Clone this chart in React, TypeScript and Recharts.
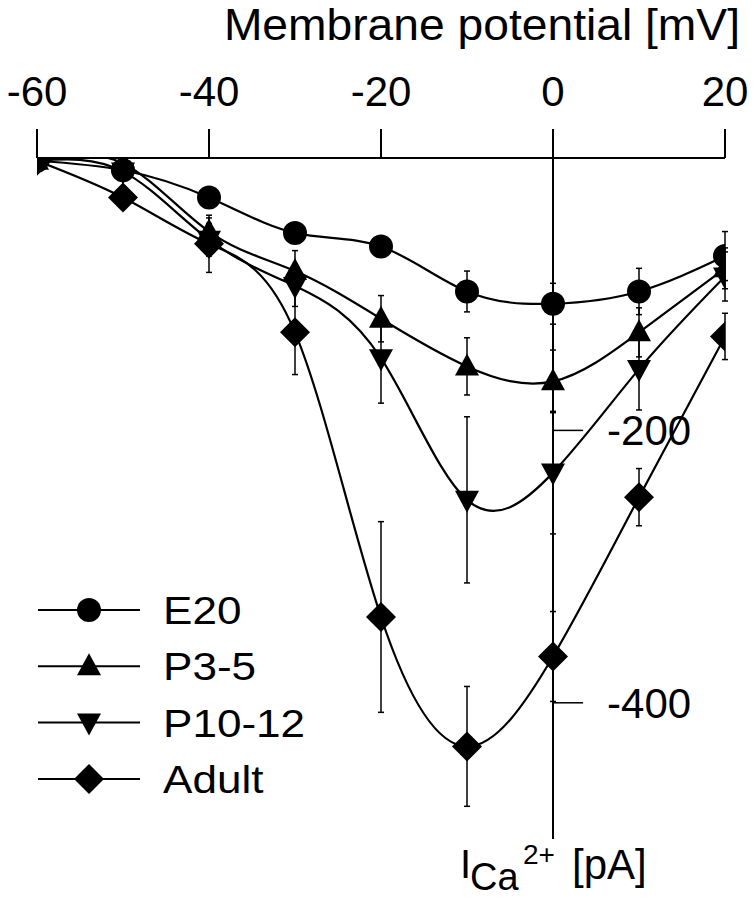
import React from 'react';
import { LineChart, Line, XAxis, YAxis, ErrorBar, ReferenceLine, Legend } from 'recharts';

const FONT = '"Liberation Sans", Arial, Helvetica, sans-serif';

// membrane potential steps (mV)
const voltages = [-60, -50, -40, -30, -20, -10, 0, 10, 20];

// peak Ca2+ current (pA) and error bars
const e20 = [-2, -9, -29, -55, -65, -98, -107, -98, -72];
const e20Err = [0, 0, 0, 0, 0, 15, 15, 17, 18];
const p35 = [-2, -4, -54, -83, -118, -153, -164, -128, -81];
const p35Err = [0, 0, 10, 15, 17, 21, 23, 18, 15];
const p1012 = [-2, -10, -60, -94, -147, -251, -231, -155, -87];
const p1012Err = [0, 0, 12, 15, 33, 61, 45, 30, 18];
const adult = [-2, -29, -63, -128, -337, -432, -366, -249, -131];
const adultErr = [0, 0, 21, 31, 70, 44, 33, 21, 17];

const xTicks = [-60, -40, -20, 0, 20];
const yTicks = [-200, -400];

const series = [
  { key: 'e20', name: 'E20', shape: 'circle' },
  { key: 'p35', name: 'P3-5', shape: 'up' },
  { key: 'p1012', name: 'P10-12', shape: 'down' },
  { key: 'adult', name: 'Adult', shape: 'diamond' },
];

const data = voltages.map((v, i) => ({
  v,
  e20: e20[i],
  e20Err: e20Err[i],
  p35: p35[i],
  p35Err: p35Err[i],
  p1012: p1012[i],
  p1012Err: p1012Err[i],
  adult: adult[i],
  adultErr: adultErr[i],
}));

function Marker({ cx, cy, shape }: { cx: number; cy: number; shape: string }) {
  if (cx == null || cy == null) return null;
  if (shape === 'circle') return <circle cx={cx} cy={cy} r={12} fill="#000" />;
  if (shape === 'up')
    return <polygon points={`${cx},${cy - 13} ${cx - 12},${cy + 9} ${cx + 12},${cy + 9}`} fill="#000" />;
  if (shape === 'down')
    return <polygon points={`${cx},${cy + 13} ${cx - 12},${cy - 9} ${cx + 12},${cy - 9}`} fill="#000" />;
  return <polygon points={`${cx},${cy - 15} ${cx + 15},${cy} ${cx},${cy + 15} ${cx - 15},${cy}`} fill="#000" />;
}

// keep the figure's own order, not the alphabetical payload order
function renderLegend(props: any) {
  const keys = (props.payload || []).map((p: any) => p.dataKey);
  const items = series.filter(s => keys.includes(s.key));
  return (
    <svg width={330} height={230} style={{ display: 'block' }}>
      {items.map((s, i) => {
        const y = 30 + i * 56.3;
        return (
          <g key={s.key}>
            <line x1={38} x2={140} y1={y} y2={y} stroke="#000" strokeWidth={2} />
            <Marker cx={89} cy={y} shape={s.shape} />
            <text transform={`translate(163, ${y + 14}) scale(1.16, 1)`} fontSize={38} fontFamily={FONT} fill="#000">
              {s.name}
            </text>
          </g>
        );
      })}
    </svg>
  );
}

export default function App() {
  return (
    <div style={{ position: 'absolute', left: 0, top: 0, width: 754, height: 899, background: '#fff' }}>
      <LineChart width={754} height={899} data={data} margin={{ top: 0, right: 29, bottom: 60, left: 37 }}>
        <XAxis
          dataKey="v"
          type="number"
          domain={[-60, 20]}
          ticks={xTicks}
          interval={0}
          orientation="top"
          height={158}
          tickSize={29}
          tickMargin={23}
          axisLine={{ stroke: '#000', strokeWidth: 2 }}
          tickLine={{ stroke: '#000', strokeWidth: 2 }}
          tick={{ fill: '#000', fontSize: 42, fontFamily: FONT }}
          allowDataOverflow
        />
        <YAxis hide type="number" domain={[-500, 0]} allowDataOverflow />
        <ReferenceLine x={0} stroke="#000" strokeWidth={2} />
        {yTicks.map(t => (
          <ReferenceLine
            key={t}
            segment={[{ x: 0, y: t }, { x: 3.5, y: t }]}
            stroke="#000"
            strokeWidth={1.5}
            label={{ value: String(t), position: 'right', offset: 24, fill: '#000', fontSize: 42, fontFamily: FONT }}
          />
        ))}
        {series.map(s => (
          <Line
            key={s.key}
            dataKey={s.key}
            name={s.name}
            type="natural"
            stroke="#000"
            strokeWidth={2.2}
            isAnimationActive={false}
            dot={(props: any) => <Marker key={`${s.key}-${props.index}`} cx={props.cx} cy={props.cy} shape={s.shape} />}
            activeDot={false}
          >
            <ErrorBar dataKey={`${s.key}Err`} direction="y" width={3} stroke="#000" strokeWidth={1.5} isAnimationActive={false} />
          </Line>
        ))}
        <Legend
          layout="vertical"
          align="center"
          verticalAlign="middle"
          wrapperStyle={{ left: 0, top: 580, width: 330, height: 230 }}
          content={renderLegend}
        />
      </LineChart>
      <svg width={754} height={899} style={{ position: 'absolute', left: 0, top: 0, pointerEvents: 'none' }}>
        <text transform="translate(740, 40) scale(1.05, 1)" textAnchor="end" fontSize={44} fontFamily={FONT} fill="#000">
          Membrane potential [mV]
        </text>
        <text x={460} y={878} fontSize={40} fontFamily={FONT} fill="#000">I</text>
        <text x={470} y={890} fontSize={38} fontFamily={FONT} fill="#000">Ca</text>
        <text x={523} y={864} fontSize={28} fontFamily={FONT} fill="#000">2+</text>
        <text x={572} y={879} fontSize={42} fontFamily={FONT} fill="#000">[pA]</text>
      </svg>
    </div>
  );
}
